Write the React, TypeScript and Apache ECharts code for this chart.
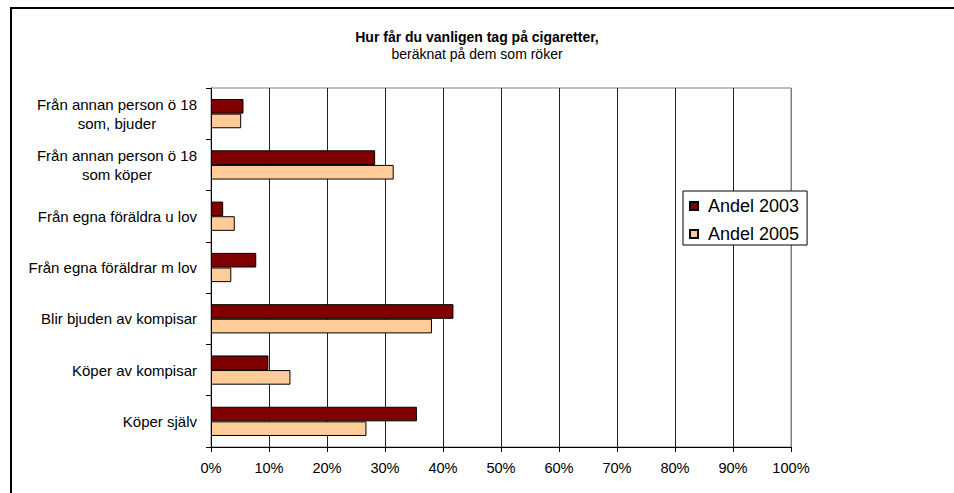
import React, { useEffect, useRef } from 'react';
import * as echarts from 'echarts';

const categories = [
  'Från annan person ö 18\nsom, bjuder',
  'Från annan person ö 18\nsom köper',
  'Från egna föräldra u lov',
  'Från egna föräldrar m lov',
  'Blir bjuden av kompisar',
  'Köper av kompisar',
  'Köper själv',
];
const andel2003 = [5.6, 28.3, 2.1, 7.8, 41.8, 9.9, 35.5];
const andel2005 = [5.2, 31.5, 4.1, 3.5, 38.1, 13.7, 26.8];
const seriesNames = ['Andel 2003', 'Andel 2005'];
const titleText = 'Hur får du vanligen tag på cigaretter,';
const subtitleText = 'beräknat på dem som röker';

const FONT = '"Liberation Sans", Arial, sans-serif';

export default function App() {
  const ref = useRef<HTMLDivElement>(null);
  useEffect(() => {
    if (!ref.current) return;
    document.documentElement.style.overflow = 'hidden';
    document.body.style.overflow = 'hidden';
    const chart = echarts.init(ref.current, null, { renderer: 'svg' });
    const splitColors = Array.from({ length: 11 }, (_, i) => (i === 10 ? '#808080' : '#222222'));
    chart.setOption({
      animation: false,
      backgroundColor: '#ffffff',
      textStyle: { fontFamily: FONT, color: '#000' },
      title: {
        text: titleText,
        subtext: subtitleText,
        left: 'center',
        top: 28,
        padding: 0,
        itemGap: 0,
        textStyle: { fontFamily: FONT, fontSize: 14, fontWeight: 'bold', color: '#000', lineHeight: 17 },
        subtextStyle: { fontFamily: FONT, fontSize: 14, color: '#000', lineHeight: 17 },
      },
      legend: {
        orient: 'vertical',
        left: 683,
        top: 191,
        padding: [6, 8, 2, 6],
        itemGap: 10,
        itemWidth: 8,
        itemHeight: 8,
        icon: 'rect',
        backgroundColor: '#fff',
        borderColor: '#000',
        borderWidth: 1,
        borderRadius: 0,
        textStyle: { fontFamily: FONT, fontSize: 18, lineHeight: 18, color: '#000', padding: [0, 0, 0, 5] },
        data: seriesNames,
      },
      grid: {
        left: 211,
        top: 88,
        right: 163,
        bottom: 46,
        show: true,
        borderColor: '#808080',
        borderWidth: 1,
        containLabel: false,
      },
      xAxis: {
        type: 'value',
        min: 0,
        max: 100,
        interval: 10,
        axisLine: { show: true, lineStyle: { color: '#000', width: 1 } },
        axisTick: { show: true, length: 5, inside: false, lineStyle: { color: '#000' } },
        axisLabel: { formatter: '{value}%', fontFamily: FONT, fontSize: 14.6, color: '#000', margin: 13 },
        splitLine: { show: true, lineStyle: { color: splitColors, width: 1 } },
      },
      yAxis: {
        type: 'category',
        data: categories,
        inverse: true,
        axisLine: { show: true, lineStyle: { color: '#000', width: 1 } },
        axisTick: { show: true, length: 5, inside: false, lineStyle: { color: '#000' } },
        splitLine: { show: false },
        axisLabel: {
          margin: 14,
          align: 'right',
          fontFamily: FONT,
          fontSize: 15,
          lineHeight: 19,
          color: '#000',
          formatter: (v: string) => v.split('\n').map((l) => `{c|${l}}`).join('\n'),
          rich: {
            c: { align: 'center', fontFamily: FONT, fontSize: 15, lineHeight: 19, color: '#000' },
          },
        },
      },
      series: [
        {
          name: seriesNames[0],
          type: 'bar',
          data: andel2003,
          barGap: '0%',
          barCategoryGap: '43%',
          itemStyle: { color: '#800000', borderColor: '#000', borderWidth: 1 },
        },
        {
          name: seriesNames[1],
          type: 'bar',
          data: andel2005,
          barGap: '0%',
          barCategoryGap: '43%',
          itemStyle: { color: '#FFCC99', borderColor: '#000', borderWidth: 1 },
        },
      ],
    });
    return () => chart.dispose();
  }, []);
  return (
    <div style={{ position: 'fixed', left: 0, top: 0, width: 954, height: 493, background: '#fff', overflow: 'hidden' }}>
      <div ref={ref} style={{ position: 'absolute', left: 0, top: 0, width: 954, height: 493 }} />
      <div
        style={{
          position: 'absolute',
          left: 10,
          top: 7,
          width: 960,
          height: 500,
          borderTop: '2px solid #000',
          borderLeft: '2px solid #000',
          pointerEvents: 'none',
          boxSizing: 'border-box',
        }}
      />
    </div>
  );
}
